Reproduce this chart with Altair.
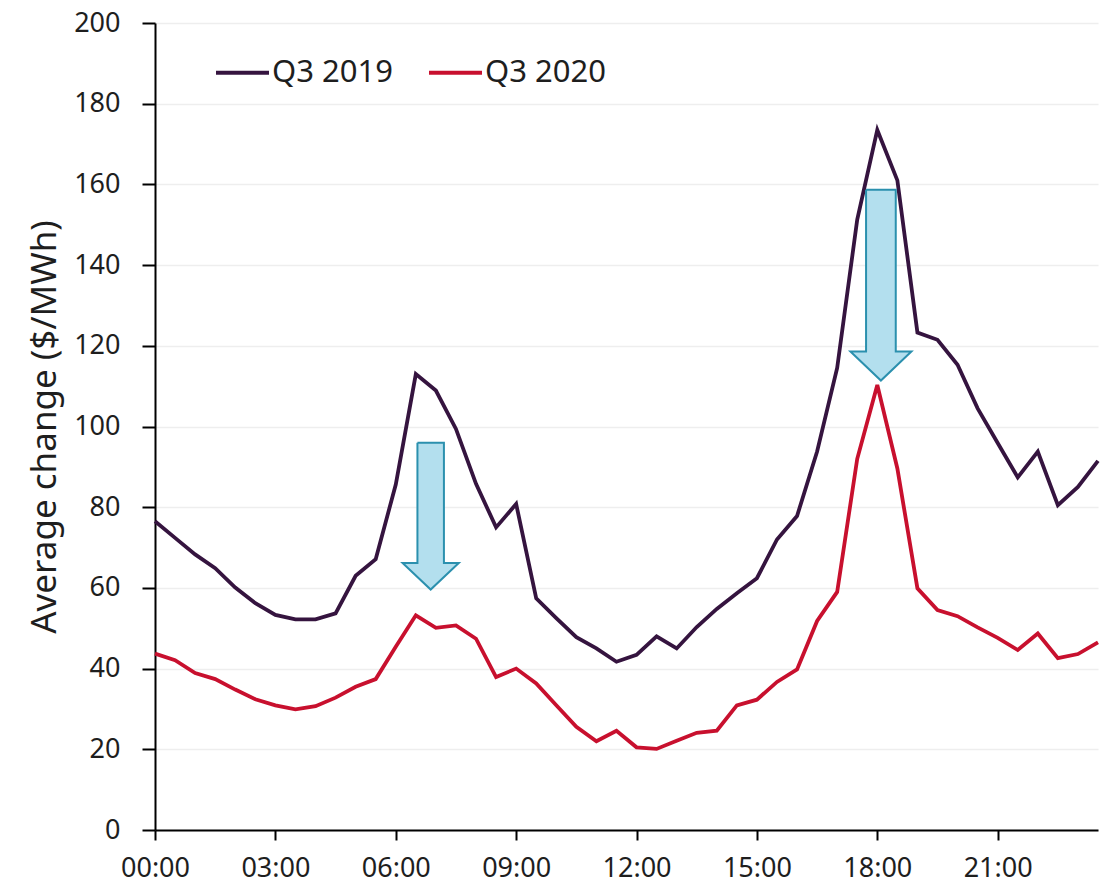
import altair as alt
import pandas as pd

times = [f"{h:02d}:{m:02d}" for h in range(24) for m in (0, 30)]

q3_2019 = [76.5, 72.4, 68.3, 64.9, 60.1, 56.2, 53.3, 52.2, 52.2, 53.7, 63.0, 67.1,
           85.6, 113.0, 108.9, 99.4, 85.8, 75.0, 80.8, 57.4, 52.5, 47.8, 45.0, 41.7,
           43.4, 48.0, 45.0, 50.3, 54.8, 58.7, 62.4, 72.0, 77.8, 93.8, 114.5, 151.3,
           173.5, 161.0, 123.3, 121.5, 115.3, 104.5, 95.9, 87.4, 93.8, 80.5, 85.0, 91.5]

q3_2020 = [43.7, 42.1, 38.9, 37.4, 34.8, 32.4, 30.9, 29.9, 30.7, 32.8, 35.5, 37.4,
           45.4, 53.2, 50.1, 50.7, 47.4, 37.9, 40.0, 36.3, 30.9, 25.6, 22.0, 24.6,
           20.5, 20.1, 22.1, 24.1, 24.6, 30.9, 32.3, 36.7, 39.8, 51.8, 59.0, 92.0,
           110.3, 89.6, 59.9, 54.5, 53.0, 50.2, 47.6, 44.6, 48.7, 42.6, 43.6, 46.5]

series_names = ["Q3 2019", "Q3 2020"]
series_colors = ["#35143F", "#C8102E"]

# block-arrow annotations (data units: hours / $/MWh)
arrow_center = [6.87, 18.09]
arrow_shaft_half = [0.33, 0.37]
arrow_head_half = [0.70, 0.76]
arrow_top = [96.0, 158.7]
arrow_neck = [66.2, 118.6]
arrow_tip = [59.6, 111.4]

x_ticks = [0, 3, 6, 9, 12, 15, 18, 21]
y_ticks = list(range(0, 201, 20))

hours = [int(t[:2]) + int(t[3:]) / 60 for t in times]
df = pd.DataFrame({
    "hour": hours * 2,
    "time": times * 2,
    "value": q3_2019 + q3_2020,
    "series": [series_names[0]] * len(times) + [series_names[1]] * len(times),
})

rows = []
for i in range(len(arrow_center)):
    c, s, h = arrow_center[i], arrow_shaft_half[i], arrow_head_half[i]
    pts = [
        (c - s, arrow_top[i]),
        (c - s, arrow_neck[i]),
        (c - h, arrow_neck[i]),
        (c, arrow_tip[i]),
        (c + h, arrow_neck[i]),
        (c + s, arrow_neck[i]),
        (c + s, arrow_top[i]),
        (c - s, arrow_top[i]),
    ]
    for k, (px, py) in enumerate(pts):
        rows.append(dict(arrow=i, order=k, x=px, y=py))
arrows = pd.DataFrame(rows)

FONT = "Noto Sans"
TXT = "#1E1E1E"

x_scale = alt.Scale(domain=[0, 23.5], nice=False, zero=False)
y_scale = alt.Scale(domain=[0, 200], nice=False)

lines = alt.Chart(df).mark_line(strokeWidth=3.8).encode(
    x=alt.X("hour:Q", scale=x_scale,
            axis=alt.Axis(values=x_ticks, title=None, grid=False, labelFlush=False,
                          labelExpr="(datum.value < 10 ? '0' : '') + datum.value + ':00'",
                          tickSize=10, labelPadding=15, labelFontSize=27)),
    y=alt.Y("value:Q", scale=y_scale,
            axis=alt.Axis(values=y_ticks, title="Average change ($/MWh)", grid=True,
                          tickSize=13, labelPadding=22, labelFontSize=27,
                          titleX=-111, titleY=403.5, titleAngle=270,
                          titleAlign="center", titleBaseline="middle",
                          titleFontSize=35, titleFont=FONT, titleFontWeight="normal",
                          titleColor=TXT)),
    color=alt.Color("series:N", title=None,
                    scale=alt.Scale(domain=series_names, range=series_colors),
                    legend=alt.Legend(orient="none", legendX=59, legendY=21,
                                      direction="horizontal", symbolType="stroke",
                                      symbolSize=2809, symbolStrokeWidth=4,
                                      labelFontSize=31, labelFont=FONT, labelColor=TXT,
                                      labelOffset=1, columnPadding=28)),
)

arrow_layer = alt.Chart(arrows).mark_line(
    fill="#B3DFEE", stroke="#2B90AE", strokeWidth=2, strokeJoin="miter"
).encode(
    x=alt.X("x:Q", scale=x_scale),
    y=alt.Y("y:Q", scale=y_scale),
    order="order:Q",
    detail="arrow:N",
)

chart = alt.layer(lines, arrow_layer).properties(
    width=943, height=807,
    autosize=alt.AutoSizeParams(type="none"),
    padding={"left": 147, "top": 15, "right": 8, "bottom": 55},
).configure_view(strokeWidth=0).configure_axis(
    labelFont=FONT, labelFontSize=28, labelColor=TXT,
    domainColor="#000000", domainWidth=2,
    tickColor="#000000", tickWidth=2,
    gridColor="#EEEEEE", gridWidth=1.5,
)

chart.save("out.html", embed_options={"renderer": "svg", "actions": False})
